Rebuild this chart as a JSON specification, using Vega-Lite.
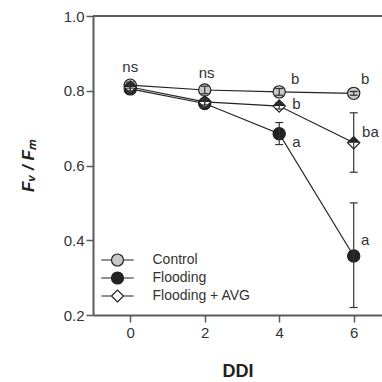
{
  "$schema": "https://vega.github.io/schema/vega-lite/v6.json",
  "width": 289,
  "height": 299,
  "autosize": {"type": "none"},
  "padding": {"left": 93, "top": 16, "right": 0, "bottom": 67},
  "background": "white",
  "config": {
    "view": {"stroke": null},
    "font": "Liberation Sans",
    "axis": {
      "grid": false,
      "domainColor": "#5a5a5a",
      "domainWidth": 2,
      "tickColor": "#5a5a5a",
      "tickWidth": 1.5,
      "tickSize": 7,
      "labelFont": "Liberation Sans",
      "labelFontSize": 15,
      "labelColor": "#333333",
      "titleFont": "Liberation Sans",
      "titleColor": "#222222"
    }
  },
  "datasets": {
    "main": [
      {"DDI": 0, "series": "Control", "mean": 0.815, "lo": 0.807, "hi": 0.823},
      {"DDI": 2, "series": "Control", "mean": 0.802, "lo": 0.792, "hi": 0.812},
      {"DDI": 4, "series": "Control", "mean": 0.797, "lo": 0.788, "hi": 0.806},
      {"DDI": 6, "series": "Control", "mean": 0.793, "lo": 0.788, "hi": 0.798},
      {"DDI": 0, "series": "Flooding", "mean": 0.805, "lo": 0.795, "hi": 0.815},
      {"DDI": 2, "series": "Flooding", "mean": 0.766, "lo": 0.756, "hi": 0.776},
      {"DDI": 4, "series": "Flooding", "mean": 0.685, "lo": 0.656, "hi": 0.715},
      {"DDI": 6, "series": "Flooding", "mean": 0.358, "lo": 0.22, "hi": 0.5},
      {"DDI": 0, "series": "Flooding + AVG", "mean": 0.81, "lo": 0.8, "hi": 0.82},
      {"DDI": 2, "series": "Flooding + AVG", "mean": 0.77, "lo": 0.762, "hi": 0.778},
      {"DDI": 4, "series": "Flooding + AVG", "mean": 0.759, "lo": 0.751, "hi": 0.767},
      {"DDI": 6, "series": "Flooding + AVG", "mean": 0.661, "lo": 0.582, "hi": 0.741}
    ],
    "labels": [
      {"tx": 0, "ty": 0.863, "label": "ns"},
      {"tx": 2.05, "ty": 0.847, "label": "ns"},
      {"tx": 4.43, "ty": 0.831, "label": "b"},
      {"tx": 6.31, "ty": 0.831, "label": "b"},
      {"tx": 4.46, "ty": 0.764, "label": "b"},
      {"tx": 6.45, "ty": 0.689, "label": "ba"},
      {"tx": 4.46, "ty": 0.664, "label": "a"},
      {"tx": 6.31, "ty": 0.401, "label": "a"}
    ]
  },
  "layer": [
    {
      "data": {"values": [{"v": 1}]},
      "mark": {"type": "rule", "color": "#5a5a5a", "strokeWidth": 2},
      "encoding": {
        "y": {"field": "v", "type": "quantitative", "scale": {"domain": [0.2, 1.0], "nice": false, "zero": false},
          "axis": {"values": [0.2, 0.4, 0.6, 0.8, 1.0], "format": ".1f", "title": "Fᵥ / Fₘ", "titleFontSize": 17, "titleFontWeight": "bold", "titleFontStyle": "italic", "titlePadding": 26, "labelPadding": 2}}
      }
    },
    {
      "data": {"name": "main"},
      "mark": {"type": "line", "color": "#222222", "strokeWidth": 1.2},
      "encoding": {
        "x": {"field": "DDI", "type": "quantitative", "scale": {"domain": [-1, 6.76], "nice": false, "zero": false},
          "axis": {"values": [0, 2, 4, 6], "title": "DDI", "titleFontSize": 18, "titleFontWeight": "bold", "titlePadding": 22, "labelPadding": 3}},
        "y": {"field": "mean", "type": "quantitative"},
        "detail": {"field": "series"}
      }
    },
    {
      "data": {"name": "main"},
      "transform": [{"filter": "datum.series !== 'Flooding + AVG'"}],
      "mark": {"type": "point", "shape": "circle", "filled": false, "size": 150, "stroke": "#222222", "strokeWidth": 1.2, "opacity": 1, "fillOpacity": 1},
      "encoding": {
        "x": {"field": "DDI", "type": "quantitative"},
        "y": {"field": "mean", "type": "quantitative"},
        "fill": {"field": "series", "type": "nominal",
          "scale": {"domain": ["Control", "Flooding", "Flooding + AVG"], "range": ["#c8c8c8", "#222222", "#ffffff"]},
          "legend": {"title": null, "orient": "none", "legendX": 17.5, "legendY": 237, "padding": 0,
            "symbolSize": 144, "symbolStrokeColor": "#222222", "symbolStrokeWidth": 1.2, "symbolOpacity": 1,
            "labelFont": "Liberation Sans", "labelFontSize": 14, "labelColor": "#333333", "labelOffset": 28, "rowPadding": 0,
            "encode": {"symbols": {"update": {"shape": {"signal": "datum.value === 'Flooding + AVG' ? 'M-2.7,0H-1M1,0H2.7M-1,0L0,-1L1,0L0,1Z' : 'M-2.7,0H-1M1,0H2.7M1,0A1,1,0,1,1,-1,0A1,1,0,1,1,1,0Z'"}, "stroke": {"value": "#222222"}}}}}}
      }
    },
    {
      "data": {"name": "main"},
      "transform": [{"filter": "datum.series === 'Flooding + AVG'"}],
      "mark": {"type": "point", "shape": "diamond", "filled": true, "size": 150, "fill": "#ffffff", "stroke": "#222222", "strokeWidth": 1.2, "opacity": 1},
      "encoding": {
        "x": {"field": "DDI", "type": "quantitative"},
        "y": {"field": "mean", "type": "quantitative"}
      }
    },
    {
      "data": {"name": "main"},
      "transform": [{"filter": "datum.series === 'Flooding + AVG'"}],
      "mark": {"type": "point", "filled": true, "shape": "M-1,0L0,-1L1,0Z", "size": 150, "color": "#222222", "opacity": 1},
      "encoding": {
        "x": {"field": "DDI", "type": "quantitative"},
        "y": {"field": "mean", "type": "quantitative"}
      }
    },
    {
      "data": {"name": "main"},
      "mark": {"type": "rule", "color": "#333333", "strokeWidth": 1.2},
      "encoding": {
        "x": {"field": "DDI", "type": "quantitative"},
        "y": {"field": "lo", "type": "quantitative"},
        "y2": {"field": "hi"}
      }
    },
    {
      "data": {"name": "main"},
      "mark": {"type": "tick", "orient": "horizontal", "color": "#333333", "size": 8, "thickness": 1.2, "opacity": 1},
      "encoding": {
        "x": {"field": "DDI", "type": "quantitative"},
        "y": {"field": "lo", "type": "quantitative"}
      }
    },
    {
      "data": {"name": "main"},
      "mark": {"type": "tick", "orient": "horizontal", "color": "#333333", "size": 8, "thickness": 1.2, "opacity": 1},
      "encoding": {
        "x": {"field": "DDI", "type": "quantitative"},
        "y": {"field": "hi", "type": "quantitative"}
      }
    },
    {
      "data": {"name": "labels"},
      "mark": {"type": "text", "font": "Liberation Sans", "fontSize": 15, "color": "#333333", "align": "center", "baseline": "middle"},
      "encoding": {
        "x": {"field": "tx", "type": "quantitative"},
        "y": {"field": "ty", "type": "quantitative"},
        "text": {"field": "label"}
      }
    }
  ]
}
